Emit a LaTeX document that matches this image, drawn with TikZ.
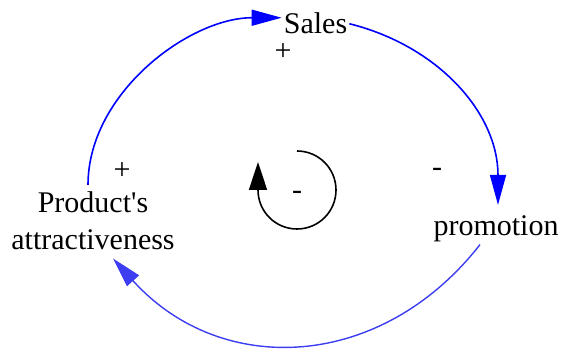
\documentclass[tikz,border=0pt]{standalone}
\usepackage{fontspec}
\setmainfont{Liberation Serif}
\usetikzlibrary{arrows.meta,calc}
\definecolor{LinkClr}{rgb}{0,0,1}
\definecolor{LowClr}{rgb}{0.24,0.24,0.95}

\tikzset{
  var/.style={inner sep=2pt,anchor=base,align=center,
    font=\fontsize{30}{37}\selectfont},
  sign/.style={inner sep=0pt,anchor=base,font=\fontsize{30}{37}\selectfont},
  link/.style={line width=1.6pt,color=LinkClr,
    -{Triangle[length=30pt,width=16pt]}},
}

\begin{document}
\begin{tikzpicture}[x=1pt,y=1pt]
\useasboundingbox (0,0) rectangle (561,350);

\node[var] (sales) at (315.5,316) {Sales};
\node[var] (promo) at (496,114) {promotion};
\node[var] (attr) at (93,100) {Product\textquotesingle s\\attractiveness};

\node[sign] (s1) at (283,289.5) {+};
\node[sign] (s2) at (437,173.5) {-};
\node[sign] (s3) at (122,170.5) {+};
\node[sign] (s4) at (297,150.5) {-};

\draw[link] ([xshift=-5pt,yshift=5pt]attr.north) to[out=90,in=180,looseness=0.92] ([yshift=6pt]sales.west);
\draw[link] (sales.east) to[out=-14,in=90] ([xshift=2pt,yshift=9pt]promo.north);
\draw[link,color=LowClr,line width=1.4pt] ([xshift=-16pt]promo.south)
  to[out=-128,in=-48,looseness=1.12] ([xshift=20pt,yshift=-6pt]attr.south);

% loop marker
\coordinate (top) at (297,199);
\draw[line width=1.6pt,-{Triangle[length=28pt,width=18pt]}]
  (top) arc[start angle=90,end angle=-180,radius=39] -- ++(0,28);

\end{tikzpicture}
\end{document}
